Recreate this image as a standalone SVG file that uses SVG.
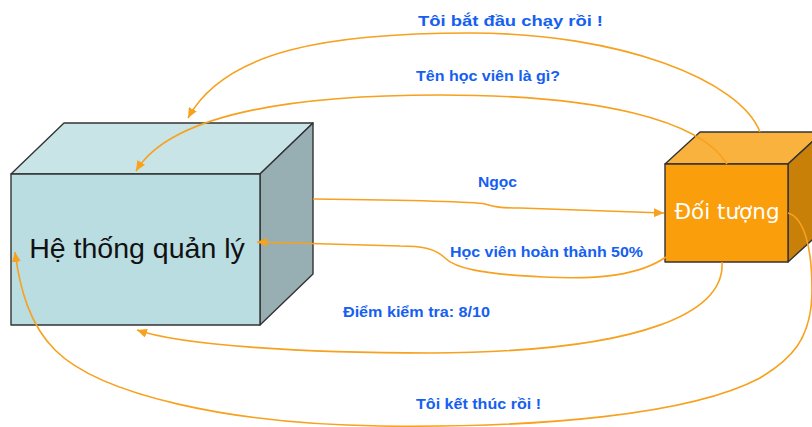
<svg xmlns="http://www.w3.org/2000/svg" width="812" height="427" viewBox="0 0 812 427">
  <style>
    .edge { fill: none; stroke: #F7A11E; stroke-width: 1.6; marker-end: url(#arrow); }
    .face { stroke: #333; stroke-width: 1.4; stroke-linejoin: round; }
    .lbl { font-family: "Liberation Sans", Arial, sans-serif; font-weight: bold; font-size: 15px; fill: #1560F0; text-anchor: middle; }
  </style>
  <defs>
    <marker id="arrow" markerUnits="userSpaceOnUse" markerWidth="10" markerHeight="9" refX="10" refY="4.5" orient="auto" viewBox="0 0 10 9">
      <path d="M0,0 L10,4.5 L0,9 z" fill="#F7A11E"/>
    </marker>
  </defs>
  <rect width="812" height="427" fill="#fff"/>

  <!-- management system box -->
  <g id="he-thong">
    <polygon class="face" points="11,174 64,123 313,123 260,174" fill="#C9E4E7"/>
    <polygon class="face" points="260,174 313,123 313,274 260,325" fill="#97AFB3"/>
    <rect class="face" x="11" y="174" width="249" height="151" fill="#BADDE1"/>
    <text x="137" y="258" font-family="Liberation Sans, Arial, sans-serif" font-size="28.5" fill="#111" text-anchor="middle">Hệ thống quản lý</text>
  </g>

  <!-- object box -->
  <g id="doi-tuong">
    <polygon class="face" points="665,164 700,132 823,132 788,164" fill="#FAB23E"/>
    <polygon class="face" points="788,164 823,132 823,230 788,262" fill="#C88009"/>
    <rect class="face" x="665" y="164" width="123" height="98" fill="#FA9E0B"/>
    <text x="727" y="219" font-family="DejaVu Sans, Verdana, sans-serif" font-size="21.5" fill="#fff" text-anchor="middle">Đối tượng</text>
  </g>

  <!-- messages between the two boxes -->
  <g id="connectors">
    <path class="edge" d="M760,132 C 740,80 620,33 470,33 C 330,33 225,50 188,118"/>
    <path class="edge" d="M727,164 C 700,120 600,95 440,95 C 290,95 170,115 136,171"/>
    <path class="edge" d="M313,199 C 400,200 470,201 485,204 C 495,207 500,208 520,208 L 664,213"/>
    <path class="edge" d="M666,257 C 640,275 600,280 543,277 C 480,274 455,268 445,258 C 435,248 420,246 400,246 L 257,242"/>
    <path class="edge" d="M722,262 C 725,310 650,352 430,353 C 300,353 180,345 137,330"/>
    <path class="edge" d="M788,213 C 805,218 812,250 812,290 C 812,340 790,360 760,378 C 690,415 540,428 380,426 C 230,424 100,395 55,350 C 30,325 20,290 15,252"/>
  </g>

  <g id="labels">
    <text class="lbl" x="510.5" y="26" textLength="185" lengthAdjust="spacingAndGlyphs">Tôi bắt đầu chạy rồi !</text>
    <text class="lbl" x="488" y="81" textLength="144" lengthAdjust="spacingAndGlyphs">Tên học viên là gì?</text>
    <text class="lbl" x="497.5" y="187" textLength="39" lengthAdjust="spacingAndGlyphs">Ngọc</text>
    <text class="lbl" x="546.5" y="257" textLength="193" lengthAdjust="spacingAndGlyphs">Học viên hoàn thành 50%</text>
    <text class="lbl" x="416.5" y="317" textLength="147" lengthAdjust="spacingAndGlyphs">Điểm kiểm tra: 8/10</text>
    <text class="lbl" x="478.5" y="409" textLength="125" lengthAdjust="spacingAndGlyphs">Tôi kết thúc rồi !</text>
  </g>
</svg>
